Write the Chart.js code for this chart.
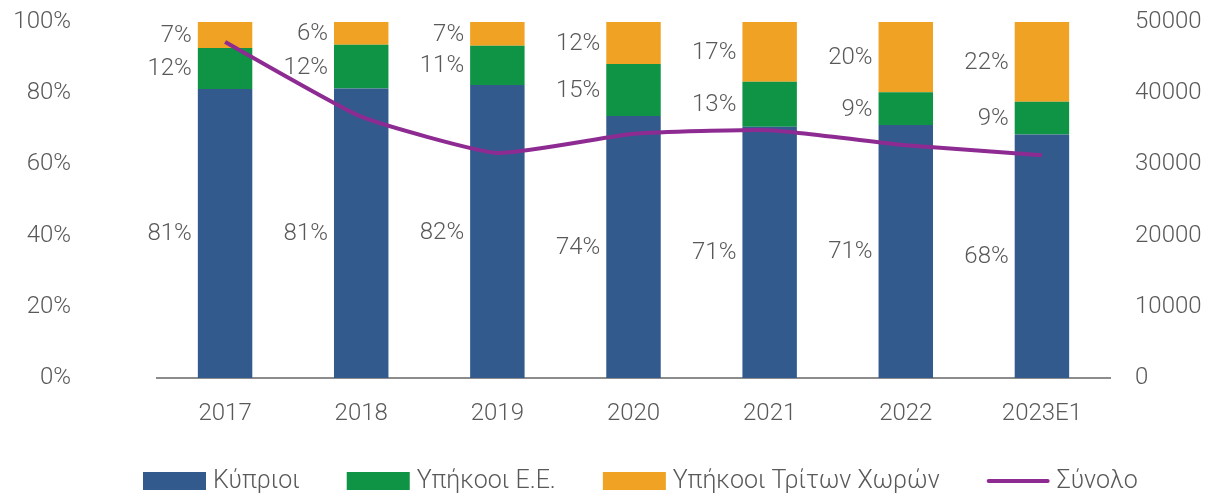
<!DOCTYPE html>
<html>
<head>
<meta charset="utf-8">
<script src="https://cdn.jsdelivr.net/npm/chart.js@4.4.1/dist/chart.umd.min.js"></script>
<style>
  html, body { margin: 0; padding: 0; background: #ffffff; }
  #wrap { width: 1211px; height: 497px; position: relative; }
</style>
</head>
<body>
<div id="wrap"><canvas id="c" width="1211" height="497"></canvas></div>
<script>
const categories = ['2017', '2018', '2019', '2020', '2021', '2022', '2023E1'];
const cypriots = [81.2, 81.3, 82.3, 73.6, 70.6, 71.1, 68.4];
const euCitizens = [11.5, 12.3, 11.0, 14.6, 12.6, 9.2, 9.2];
const thirdCountry = [7.3, 6.4, 6.7, 11.8, 16.8, 19.7, 22.4];
const total = [47200, 36700, 31600, 34300, 34800, 32700, 31300];
const seriesNames = ['Κύπριοι', 'Υπήκοοι Ε.Ε.', 'Υπήκοοι Τρίτων Χωρών', 'Σύνολο'];
const leftTicks = [0, 20, 40, 60, 80, 100];
const rightTicks = [0, 10000, 20000, 30000, 40000, 50000];

const FONT = 'Roboto, "Open Sans", sans-serif';
const TEXT = '#595959';
const COLORS = ['#325A8D', '#0F9344', '#EFA223', '#8E2B92'];

const labelPlugin = {
  id: 'barLabels',
  afterDatasetsDraw(chart) {
    const ctx = chart.ctx;
    ctx.save();
    ctx.font = '300 24px ' + FONT;
    ctx.fillStyle = TEXT;
    ctx.textAlign = 'right';
    ctx.textBaseline = 'middle';
    for (let d = 0; d < 3; d++) {
      const meta = chart.getDatasetMeta(d);
      const data = chart.data.datasets[d].data;
      meta.data.forEach((bar, i) => {
        const left = bar.x - bar.width / 2;
        const yc = (bar.y + bar.base) / 2;
        ctx.fillText(Math.round(data[i]) + '%', left - 6, yc + 1);
      });
    }
    ctx.restore();
  }
};

const legendPlugin = {
  id: 'customLegend',
  afterDraw(chart) {
    const ctx = chart.ctx;
    ctx.save();
    ctx.font = '300 25px ' + FONT;
    ctx.textBaseline = 'middle';
    ctx.textAlign = 'left';
    const boxW = 63, boxH = 18, gapText = 7, gapItem = 47;
    const yc = 481;
    let x = 143;
    seriesNames.forEach((name, i) => {
      if (i < 3) {
        ctx.fillStyle = COLORS[i];
        ctx.fillRect(x, yc - boxH / 2, boxW, boxH);
      } else {
        ctx.strokeStyle = COLORS[i];
        ctx.lineWidth = 4;
        ctx.lineCap = 'round';
        ctx.beginPath();
        ctx.moveTo(x + 2, yc);
        ctx.lineTo(x + boxW - 2, yc);
        ctx.stroke();
      }
      ctx.fillStyle = TEXT;
      ctx.fillText(name, x + boxW + gapText, yc + 1);
      x += boxW + gapText + ctx.measureText(name).width + gapItem;
    });
    ctx.restore();
  }
};

const barCommon = { stack: 's', yAxisID: 'y', order: 1, barPercentage: 0.4, categoryPercentage: 1, borderWidth: 0 };

new Chart(document.getElementById('c'), {
  type: 'bar',
  data: {
    labels: categories,
    datasets: [
      Object.assign({ label: seriesNames[0], data: cypriots, backgroundColor: COLORS[0] }, barCommon),
      Object.assign({ label: seriesNames[1], data: euCitizens, backgroundColor: COLORS[1] }, barCommon),
      Object.assign({ label: seriesNames[2], data: thirdCountry, backgroundColor: COLORS[2] }, barCommon),
      { type: 'line', label: seriesNames[3], data: total, yAxisID: 'y2', order: 0,
        borderColor: COLORS[3], borderWidth: 4, pointRadius: 0, tension: 0.15, fill: false }
    ]
  },
  options: {
    responsive: false,
    animation: false,
    events: [],
    layout: { padding: { top: 22, bottom: 31, left: 0, right: 0 } },
    plugins: { legend: { display: false }, tooltip: { enabled: false } },
    scales: {
      x: {
        stacked: true,
        grid: { display: false, drawTicks: false },
        border: { display: true, color: '#8C8C8C', width: 2 },
        ticks: { color: TEXT, font: { family: FONT, size: 24, weight: '300' }, padding: 22 },
        afterFit(s) { s.height = 88; }
      },
      y: {
        position: 'left',
        stacked: true,
        min: 0, max: 100,
        afterBuildTicks(s) { s.ticks = leftTicks.map(v => ({ value: v })); },
        grid: { display: false, drawTicks: false },
        border: { display: false },
        ticks: { color: TEXT, font: { family: FONT, size: 24, weight: '300' }, padding: 86,
          callback: v => v + '%' },
        afterFit(s) { s.width = 157; s.paddingTop = 10; s.paddingBottom = 10; }
      },
      y2: {
        position: 'right',
        min: 0, max: 50000,
        afterBuildTicks(s) { s.ticks = rightTicks.map(v => ({ value: v })); },
        grid: { display: false, drawTicks: false },
        border: { display: false },
        ticks: { color: TEXT, font: { family: FONT, size: 24, weight: '300' }, padding: 25,
          callback: v => String(v) },
        afterFit(s) { s.width = 101; s.paddingTop = 10; s.paddingBottom = 10; }
      }
    }
  },
  plugins: [labelPlugin, legendPlugin]
});
</script>
</body>
</html>
